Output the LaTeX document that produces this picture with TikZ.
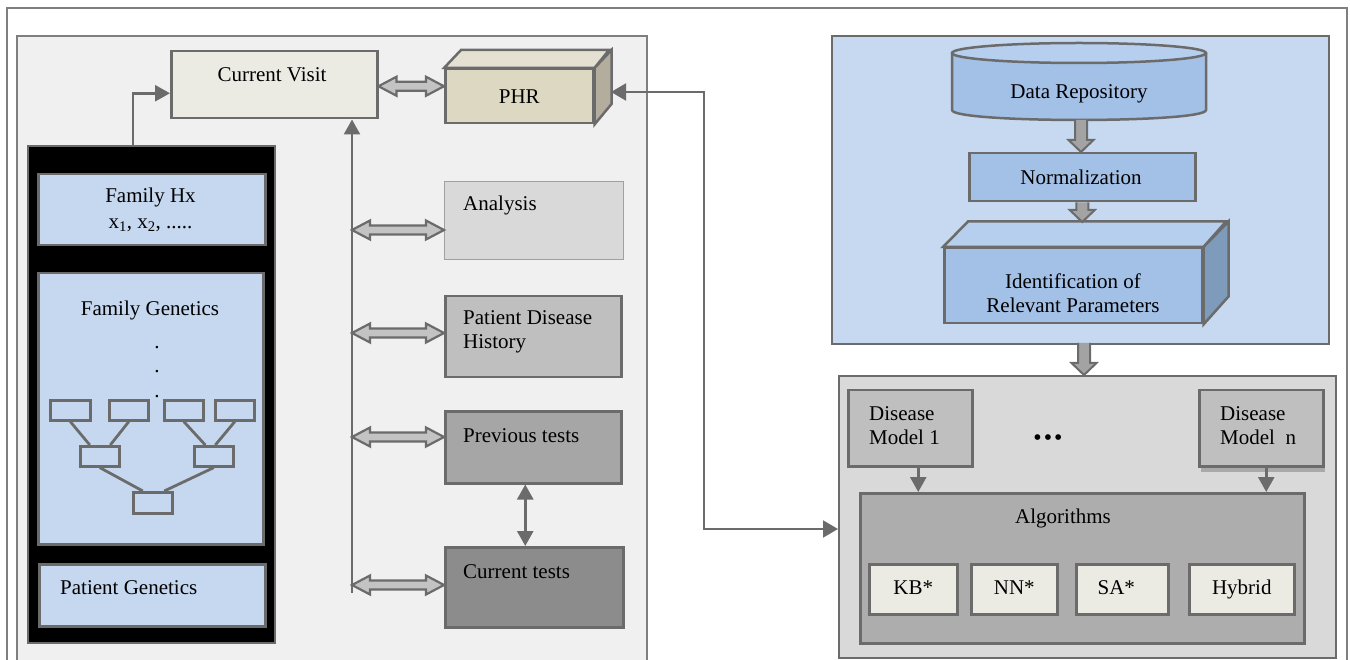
\documentclass[tikz,border=0pt]{standalone}
\usepackage{fontspec}
\setmainfont{Liberation Serif}
\usetikzlibrary{arrows.meta,calc}

\definecolor{frameline}{HTML}{7F7F7F}
\definecolor{edge}{HTML}{6B6B6B}
\definecolor{panelL}{HTML}{F0F0F0}
\definecolor{ivory}{HTML}{EBEBE4}
\definecolor{phrfront}{HTML}{DDD8C1}
\definecolor{phrtop}{HTML}{E5E1D2}
\definecolor{phrside}{HTML}{B2AD9D}
\definecolor{anafill}{HTML}{D9D9D9}
\definecolor{anaedge}{HTML}{A0A0A0}
\definecolor{pdhfill}{HTML}{BFBFBF}
\definecolor{prevfill}{HTML}{A6A6A6}
\definecolor{curfill}{HTML}{8C8C8C}
\definecolor{famfill}{HTML}{C5D8EF}
\definecolor{bluepanel}{HTML}{C6D9F1}
\definecolor{blueitem}{HTML}{A3C0E6}
\definecolor{bluetop}{HTML}{B6CFEE}
\definecolor{blueside}{HTML}{7E9BBB}
\definecolor{graypanel}{HTML}{D9D9D9}
\definecolor{dmfill}{HTML}{BFBFBF}
\definecolor{dmshadow}{HTML}{A9A9A9}
\definecolor{algfill}{HTML}{ADADAD}
\definecolor{fatfill}{HTML}{C3C3C3}
\definecolor{fatdark}{HTML}{A3A3A3}

\tikzset{
  box/.style={rectangle, draw=edge, line width=2.5pt, inner sep=0pt, anchor=north west},
  panel/.style={rectangle, draw=frameline, line width=2pt, inner sep=0pt, anchor=north west},
  gbox/.style={rectangle, draw=edge, line width=2.6pt, inner sep=0pt, anchor=north west,
    minimum height=20pt},
  gline/.style={draw=edge, line width=2.8pt},
  conn/.style={draw=edge, line width=2.6pt, -{Triangle[length=15pt,width=16pt]}},
  conn2/.style={draw=edge, line width=2.6pt,
    {Triangle[length=15pt,width=16pt]}-{Triangle[length=15pt,width=16pt]}},
  link/.style={draw=edge, line width=2pt,
    {Triangle[length=15pt,width=17pt]}-{Triangle[length=15pt,width=17pt]}},
  fatdbl/.style={draw=edge, fill=fatfill, line width=2.2pt, line join=miter,
    to path={let \p1=(\tikztostart), \p2=(\tikztotarget) in
      (\x1,\y1) -- (\x1+18pt,\y1+9.5pt) -- (\x1+18pt,\y1+4.5pt)
      -- (\x2-18pt,\y1+4.5pt) -- (\x2-18pt,\y1+9.5pt) -- (\x2,\y1)
      -- (\x2-18pt,\y1-9.5pt) -- (\x2-18pt,\y1-4.5pt)
      -- (\x1+18pt,\y1-4.5pt) -- (\x1+18pt,\y1-9.5pt) -- cycle}},
  fatdown/.style={draw=edge, fill=fatdark, line width=2pt, line join=miter,
    to path={let \p1=(\tikztostart), \p2=(\tikztotarget) in
      (\x1-6pt,\y1) -- (\x1-6pt,\y2+12pt) -- (\x1-12.5pt,\y2+12pt) -- (\x1,\y2)
      -- (\x1+12.5pt,\y2+12pt) -- (\x1+6pt,\y2+12pt) -- (\x1+6pt,\y1)}},
  lbl/.style={inner sep=0pt},
}

\begin{document}
\begin{tikzpicture}[x=1pt, y=-1pt, font=\fontsize{21}{24}\selectfont]
\useasboundingbox (0,0) rectangle (1350,660);
\clip (0,0) rectangle (1350,660);
\fill[white] (0,0) rectangle (1350,660);

% outer frame and the patient-side panel
\node[panel, minimum width=1340, minimum height=700] (frame) at (6,7) {};
\node[panel, fill=panelL, minimum width=630, minimum height=700] (lp) at (16,35) {};

% current visit and PHR store
\node[box, fill=ivory, minimum width=206, minimum height=67] (cv) at (170,50) {};
\node[lbl] (cvt) at (272,75) {Current Visit};

\node[box, fill=phrfront, minimum width=148, minimum height=54] (phr) at (444,68) {};
\filldraw[draw=edge, fill=phrtop, line width=2.5pt, line join=miter]
  (phr.north west) -- ++(17,-18) -- ++(148,0) -- (phr.north east) -- cycle;
\filldraw[draw=edge, fill=phrside, line width=2.5pt, line join=miter]
  (phr.north east) -- ++(17,-18) -- ++(0,54) -- (phr.south east) -- cycle;
\node[lbl] (phrt) at (phr.center) {PHR};

% record boxes
\node[box, fill=anafill, draw=anaedge, line width=1.4pt, minimum width=179, minimum height=78] (ana) at (444,181) {};
\node[lbl, anchor=west] (anat) at (463,205) {Analysis};

\node[box, fill=pdhfill, minimum width=176, minimum height=81] (pdh) at (444,295) {};
\node[lbl, anchor=west, align=left] (pdht) at (463,332) {Patient Disease\\History};

\node[box, fill=prevfill, minimum width=176, minimum height=72] (prev) at (444,410) {};
\node[lbl, anchor=west] (prevt) at (463,436) {Previous tests};

\node[box, fill=curfill, minimum width=178, minimum height=80] (cur) at (444,546) {};
\node[lbl, anchor=west] (curt) at (463,572) {Current tests};

% genetics column
\node[box, fill=black, line width=2pt, minimum width=247, minimum height=497] (blk) at (27,145) {};
\node[box, fill=famfill, minimum width=227, minimum height=71] (fhx) at (37,173) {};
\node[lbl] (fhxt) at (150.5,197) {Family Hx};
\node[lbl] (fhxv) at (150.5,225) {x\textsubscript{1}, x\textsubscript{2}, .....};

\node[box, fill=famfill, minimum width=225, minimum height=271] (fgen) at (37,272) {};
\node[lbl] (fgent) at (150,310) {Family Genetics};
\node[lbl, anchor=base] (d1) at (157,349) {.};
\node[lbl, anchor=base] (d2) at (157,373) {.};
\node[lbl, anchor=base] (d3) at (157,398) {.};

\node[gbox, minimum width=40] (g1) at (49,399) {};
\node[gbox, minimum width=39] (g2) at (108,399) {};
\node[gbox, minimum width=39] (g3) at (163,399) {};
\node[gbox, minimum width=39] (g4) at (214,399) {};
\node[gbox, minimum width=39] (g5) at (79,445) {};
\node[gbox, minimum width=39] (g6) at (193,445) {};
\node[gbox, minimum width=39, minimum height=21] (g7) at (132,491) {};
\draw[gline] (g1.south) -- ([xshift=-10pt]g5.north);
\draw[gline] (g2.south) -- ([xshift=10.5pt]g5.north);
\draw[gline] (g3.south) -- ([xshift=-8.5pt]g6.north);
\draw[gline] (g4.south) -- ([xshift=1.5pt]g6.north);
\draw[gline] (g5.south) -- ([xshift=-10pt]g7.north);
\draw[gline] (g6.south) -- ([xshift=11.5pt]g7.north);

\node[box, fill=famfill, minimum width=226, minimum height=62] (pgen) at (38,563) {};
\node[lbl, anchor=west] (pgent) at (60,588) {Patient Genetics};

% connectors on the patient side
\coordinate (bk) at (133,145);
\draw[conn] (bk) |- ([yshift=-8.5pt]cv.west);

\coordinate (tb) at (352,593);
\draw[conn] (tb) -- (tb |- cv.south);

\coordinate (t1) at (352,230);
\coordinate (t2) at (352,333);
\coordinate (t3) at (352,437);
\coordinate (t4) at (352,585);
\path[fatdbl] ([yshift=-1.5pt]cv.east) to ([yshift=-1.5pt]cv.east -| phr.west);
\path[fatdbl] (t1) to (t1 -| ana.west);
\path[fatdbl] (t2) to (t2 -| pdh.west);
\path[fatdbl] (t3) to (t3 -| prev.west);
\path[fatdbl] (t4) to (t4 -| cur.west);
\draw[conn2] ([xshift=-8pt]prev.south) -- ([xshift=-8pt]prev.south |- cur.north);

% data preparation panel
\node[box, fill=bluepanel, draw=edge, line width=2pt, minimum width=497, minimum height=308] (bp) at (831,35) {};
\filldraw[draw=edge, fill=blueitem, line width=2.5pt]
  (952,53) -- (952,110) .. controls (952,123.3) and (1206,123.3) .. (1206,110) -- (1206,53);
\filldraw[draw=edge, fill=bluetop, line width=2.5pt] (1079,53) ellipse [x radius=127, y radius=10];
\node[lbl] (repo) at (1079,94) {Data Repository};
\coordinate (rb) at (1081,120);

\node[box, fill=blueitem, minimum width=226, minimum height=48] (norm) at (968,152) {};
\node[lbl] (normt) at (1081,177) {Normalization};

\node[box, fill=blueitem, minimum width=258, minimum height=75] (ident) at (943,247) {};
\filldraw[draw=edge, fill=bluetop, line width=2.5pt, line join=miter]
  (ident.north west) -- ++(25,-25.5) -- ++(258,0) -- (ident.north east) -- cycle;
\filldraw[draw=edge, fill=blueside, line width=2.5pt, line join=miter]
  (ident.north east) -- ++(25,-25.5) -- ++(0,75) -- (ident.south east) -- cycle;
\node[lbl, align=center] (identt) at (1073,293) {Identification of\\Relevant Parameters};
\coordinate (itop) at (1081,222);

\path[fatdown] (rb) to (norm.north);
\path[fatdown] (norm.south) to (itop);

% disease model panel
\node[box, fill=graypanel, draw=edge, line width=2pt, minimum width=497, minimum height=282] (gp) at (838,375) {};
\coordinate (bpo) at (1084,343);
\coordinate (gpi) at (1084,375);
\path[fatdown] (bpo) to (gpi);

\node[box, fill=dmfill, minimum width=124, minimum height=76] (dm1) at (847,389) {};
\node[lbl, anchor=west, align=left] (dm1t) at (869,426) {Disease\\Model 1};

\fill[dmshadow] (1201,393) rectangle (1325,472);
\node[box, fill=dmfill, minimum width=124, minimum height=76] (dmn) at (1198,389) {};
\node[lbl, anchor=west, align=left] (dmnt) at (1220,426) {Disease\\Model~~n};

\node[lbl, font=\fontsize{21}{24}\selectfont\bfseries] (ell) at (1048,440) {\textbullet\kern3pt\textbullet\kern3pt\textbullet};

\node[box, fill=algfill, minimum width=444, minimum height=150] (alg) at (859,492) {};
\node[lbl] (algt) at (1063,518) {Algorithms};

\node[box, fill=ivory, minimum width=88, minimum height=50] (kb) at (868,563) {};
\node[lbl] at ([yshift=2pt]kb.center) {KB*};
\node[box, fill=ivory, minimum width=86, minimum height=50] (nn) at (970,563) {};
\node[lbl] at ([yshift=2pt]nn.center) {NN*};
\node[box, fill=ivory, minimum width=92, minimum height=50] (sa) at (1075,563) {};
\node[lbl] at ([xshift=-6pt,yshift=2pt]sa.center) {SA*};
\node[box, fill=ivory, minimum width=105, minimum height=50] (hy) at (1188,563) {};
\node[lbl] at (hy.center) {Hybrid};

\draw[conn] ([xshift=8pt]dm1.south) -- ([xshift=8pt]dm1.south |- alg.north);
\draw[conn] ([xshift=5pt]dmn.south) -- ([xshift=5pt]dmn.south |- alg.north);

% PHR exchange with the disease models
\coordinate (phrR) at (611,92);
\coordinate (j1) at (704,92);
\draw[link] (phrR) -- (j1) |- ([yshift=-12pt]gp.west);

\end{tikzpicture}
\end{document}
